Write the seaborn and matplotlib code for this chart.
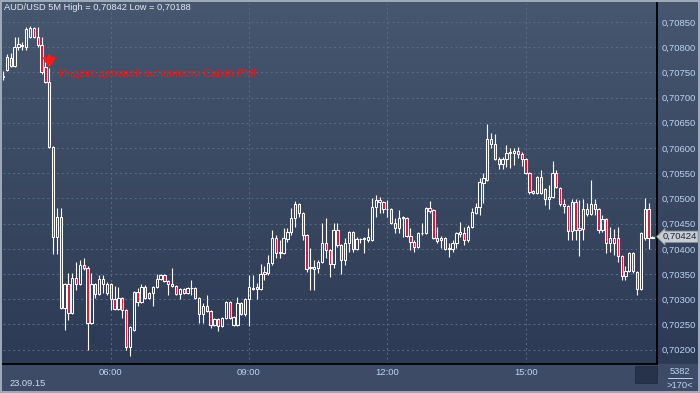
import numpy as np
import pandas as pd
import matplotlib
matplotlib.use('Agg')
import matplotlib.pyplot as plt
from matplotlib.patches import Rectangle
from matplotlib.colors import LinearSegmentedColormap
import seaborn as sns

symbol = 'AUD/USD 5M'
start_time = '2015-09-23 03:40'
bar_total = '5382'
event_idx = 12
event_text = 'Индекс деловой активности Caixin PMI'

# prices in points (1e-5)
opens = np.array([
    70741, 70755, 70779, 70763, 70800, 70802, 70800, 70820, 70838, 70820,
    70804, 70761, 70731, 70602, 70423, 70463, 70283, 70330, 70273, 70342,
    70330, 70368, 70362, 70253, 70330, 70310, 70330, 70312, 70330, 70300,
    70281, 70302, 70279, 70205, 70239, 70314, 70294, 70324, 70302, 70312,
    70324, 70340, 70348, 70336, 70326, 70326, 70310, 70320, 70312, 70322,
    70322, 70302, 70271, 70287, 70277, 70249, 70261, 70247, 70263, 70294,
    70249, 70249, 70292, 70271, 70300, 70320, 70320, 70320, 70354, 70352,
    70372, 70421, 70392, 70392, 70419, 70433, 70461, 70489, 70471, 70427,
    70364, 70360, 70362, 70374, 70412, 70398, 70370, 70437, 70408, 70378,
    70412, 70433, 70400, 70419, 70419, 70417, 70417, 70483, 70497, 70493,
    70479, 70479, 70451, 70441, 70461, 70461, 70425, 70414, 70404, 70431,
    70431, 70481, 70477, 70421, 70421, 70421, 70402, 70400, 70412, 70429,
    70431, 70417, 70443, 70471, 70483, 70531, 70537, 70618, 70608, 70578,
    70568, 70578, 70590, 70590, 70594, 70588, 70578, 70550, 70515, 70511,
    70543, 70519, 70499, 70503, 70550, 70521, 70489, 70485, 70435, 70493,
    70441, 70439, 70469, 70469, 70489, 70479, 70437, 70459, 70412, 70421,
    70421, 70386, 70346, 70356, 70392, 70354, 70320, 70421, 70479, 70421]) / 1e5
highs = np.array([
    70753, 70787, 70789, 70820, 70820, 70810, 70840, 70842, 70840, 70840,
    70820, 70771, 70759, 70604, 70481, 70481, 70332, 70352, 70352, 70374,
    70378, 70382, 70366, 70352, 70332, 70348, 70348, 70334, 70332, 70326,
    70324, 70304, 70281, 70247, 70316, 70322, 70330, 70328, 70314, 70326,
    70350, 70350, 70350, 70338, 70362, 70328, 70322, 70322, 70324, 70338,
    70324, 70304, 70292, 70308, 70279, 70263, 70263, 70265, 70296, 70296,
    70267, 70304, 70294, 70302, 70348, 70348, 70332, 70370, 70366, 70388,
    70437, 70427, 70417, 70441, 70441, 70481, 70495, 70491, 70473, 70429,
    70402, 70378, 70378, 70451, 70461, 70400, 70451, 70451, 70410, 70421,
    70435, 70435, 70423, 70421, 70423, 70441, 70501, 70507, 70503, 70495,
    70497, 70481, 70461, 70477, 70465, 70463, 70441, 70417, 70433, 70451,
    70483, 70495, 70479, 70443, 70425, 70423, 70412, 70417, 70433, 70453,
    70443, 70447, 70481, 70491, 70541, 70551, 70648, 70630, 70628, 70582,
    70582, 70606, 70600, 70600, 70602, 70592, 70580, 70552, 70517, 70545,
    70556, 70521, 70527, 70574, 70556, 70523, 70499, 70487, 70499, 70499,
    70497, 70499, 70491, 70537, 70499, 70481, 70467, 70461, 70443, 70439,
    70443, 70388, 70366, 70394, 70394, 70356, 70433, 70501, 70491, 70425]) / 1e5
lows = np.array([
    70735, 70753, 70761, 70761, 70794, 70794, 70794, 70818, 70818, 70800,
    70747, 70729, 70600, 70390, 70390, 70281, 70239, 70259, 70271, 70318,
    70328, 70358, 70199, 70251, 70302, 70308, 70312, 70308, 70279, 70279,
    70279, 70263, 70199, 70188, 70237, 70287, 70292, 70300, 70300, 70287,
    70322, 70338, 70334, 70308, 70324, 70308, 70300, 70310, 70310, 70308,
    70300, 70253, 70253, 70275, 70243, 70247, 70237, 70245, 70261, 70261,
    70247, 70247, 70269, 70267, 70247, 70318, 70300, 70318, 70338, 70348,
    70368, 70382, 70382, 70390, 70414, 70427, 70443, 70463, 70417, 70354,
    70318, 70318, 70352, 70372, 70382, 70344, 70362, 70404, 70350, 70368,
    70394, 70394, 70398, 70412, 70392, 70414, 70416, 70463, 70471, 70471,
    70463, 70449, 70431, 70431, 70423, 70423, 70398, 70394, 70402, 70427,
    70429, 70471, 70419, 70412, 70402, 70398, 70384, 70394, 70402, 70423,
    70408, 70414, 70441, 70469, 70467, 70491, 70535, 70600, 70576, 70558,
    70558, 70562, 70560, 70566, 70580, 70564, 70548, 70509, 70509, 70509,
    70509, 70487, 70479, 70501, 70521, 70485, 70471, 70417, 70417, 70417,
    70386, 70417, 70465, 70467, 70467, 70431, 70433, 70392, 70394, 70388,
    70374, 70338, 70338, 70354, 70352, 70308, 70318, 70417, 70400, 70421]) / 1e5
closes = np.array([
    70743, 70781, 70763, 70800, 70806, 70804, 70836, 70838, 70820, 70804,
    70751, 70731, 70602, 70423, 70463, 70283, 70330, 70273, 70342, 70330,
    70368, 70362, 70253, 70330, 70310, 70340, 70340, 70330, 70300, 70281,
    70302, 70279, 70205, 70245, 70314, 70294, 70324, 70302, 70312, 70324,
    70340, 70348, 70336, 70330, 70330, 70310, 70320, 70312, 70322, 70323,
    70302, 70271, 70287, 70277, 70249, 70261, 70247, 70263, 70294, 70263,
    70265, 70292, 70271, 70300, 70324, 70322, 70324, 70350, 70350, 70372,
    70421, 70392, 70394, 70421, 70433, 70461, 70489, 70471, 70427, 70360,
    70362, 70364, 70374, 70412, 70398, 70370, 70437, 70408, 70378, 70412,
    70433, 70400, 70419, 70420, 70421, 70423, 70483, 70497, 70493, 70479,
    70480, 70451, 70441, 70461, 70463, 70425, 70414, 70404, 70431, 70432,
    70481, 70475, 70421, 70415, 70417, 70400, 70400, 70412, 70431, 70433,
    70417, 70443, 70473, 70483, 70533, 70541, 70618, 70608, 70578, 70568,
    70578, 70590, 70592, 70594, 70588, 70578, 70550, 70513, 70511, 70543,
    70511, 70499, 70503, 70550, 70523, 70489, 70485, 70435, 70493, 70437,
    70437, 70479, 70479, 70489, 70479, 70437, 70459, 70412, 70421, 70412,
    70386, 70346, 70356, 70392, 70356, 70320, 70431, 70479, 70421, 70424]) / 1e5

price_ticks = np.arange(70200, 70851, 50) / 1e5

sns.set_theme(style='dark')
plt.rcParams['font.family'] = ['Liberation Sans', 'DejaVu Sans']

txt_col = '#bdd3f2'
red = '#dc143c'


def fmt(v):
    return f'{v:.5f}'.replace('.', ',')


times = pd.date_range(start_time, periods=len(opens), freq='5min')
x = np.arange(len(opens))

fig = plt.figure(figsize=(7, 3.93), dpi=100, facecolor='#2d3a55')

# background: gradient panel, bottom strip, frame
bg = fig.add_axes([0, 0, 1, 1])
bg.set_xlim(0, 700)
bg.set_ylim(393, 0)
bg.axis('off')
cmap = LinearSegmentedColormap.from_list('bg', ['#47576f', '#2d3a55'])
bg.imshow(np.linspace(0, 1, 256)[:, None], extent=[0, 700, 364, 0], cmap=cmap, aspect='auto')
bg.add_patch(Rectangle((0, 364), 700, 29, color='#3d4b66'))
bg.add_patch(Rectangle((635, 366), 22, 17, facecolor='#27324b', edgecolor='#222b40', lw=0.6))
bg.add_patch(Rectangle((0.6, 0.8), 698.8, 391, fill=False, edgecolor='#a9b3c1', lw=1.3))
bg.plot([668, 692], [377.5, 377.5], color=txt_col, lw=0.7)

ax = fig.add_axes([3 / 700, 29 / 393, 654 / 700, 361 / 393])
ax.set_facecolor('none')

# candles
up = closes >= opens
body_lo = np.minimum(opens, closes)
body_hi = np.maximum(opens, closes)
body_h = np.maximum(body_hi - body_lo, 0.000004)
ax.vlines(x, body_hi, highs, color='white', lw=0.8, zorder=3)
ax.vlines(x, lows, body_lo, color='white', lw=0.8, zorder=3)
ax.bar(x[up], body_h[up], bottom=body_lo[up], width=0.6, facecolor='none',
       edgecolor='white', linewidth=0.75, zorder=3)
ax.bar(x[~up], body_h[~up], bottom=body_lo[~up], width=0.6, facecolor=red,
       edgecolor='white', linewidth=0.75, zorder=3)

ax.set_xlim(-0.03, 170.2)
ax.set_ylim(0.701715, 0.708877)

# axes, ticks, grid
for side in ['left', 'top']:
    ax.spines[side].set_visible(False)
for side in ['right', 'bottom']:
    ax.spines[side].set_visible(True)
    ax.spines[side].set_color('black')
    ax.spines[side].set_linewidth(1.3)

ax.yaxis.tick_right()
ax.set_yticks(price_ticks)
ax.set_yticklabels([fmt(v) for v in price_ticks])
ax.tick_params(axis='y', length=0, pad=3.5, labelsize=6.8, labelcolor=txt_col)

hour_idx = np.where((times.minute == 0) & (times.hour % 3 == 0))[0]
ax.set_xticks(hour_idx)
ax.set_xticklabels(times[hour_idx].strftime('%H:%M'))
ax.tick_params(axis='x', length=0, pad=3, labelsize=6.8, labelcolor=txt_col)

ax.grid(True, color='#5b6b89', linestyle=(0, (2, 3)), linewidth=0.7, zorder=1)
ax.set_axisbelow(True)

# event marker: red down arrow above the candle, label to the right
ax.annotate('', xy=(event_idx, highs[event_idx]), xytext=(0, 9), textcoords='offset points',
            arrowprops=dict(arrowstyle='-|>,head_width=0.3,head_length=0.45',
                            color='#ff1a1a', lw=1.8, mutation_scale=12,
                            shrinkA=0, shrinkB=0), zorder=5)
ax.annotate(event_text, xy=(event_idx, highs[event_idx]), xytext=(6.8, -4.3),
            textcoords='offset points', color='#ff1010', fontsize=7.8,
            ha='left', va='center', zorder=5)

# last price tag
ax.annotate(fmt(closes[-1]), xy=(1, closes[-1]), xycoords=('axes fraction', 'data'),
            xytext=(4, 0), textcoords='offset points', fontsize=6.8, color='#1a2638',
            ha='left', va='center', annotation_clip=False,
            bbox=dict(boxstyle='larrow,pad=0.12', facecolor='#c9cdd3', edgecolor='#8a93a0', lw=0.6))

# header and footer texts
fig.text(4 / 700, 1 - 8 / 393, f'{symbol} High = {fmt(highs.max())} Low = {fmt(lows.min())}',
         color='#e4eaf3', fontsize=6.7, ha='left', va='center')
fig.text(10 / 700, 1 - 383 / 393, times[0].strftime('%d.%m.%y'),
         color='#d0dcef', fontsize=6.7, ha='left', va='center')
fig.text(680 / 700, 1 - 371 / 393, bar_total, color=txt_col, fontsize=6.7, ha='center', va='center')
fig.text(680 / 700, 1 - 385 / 393, f'>{len(opens)}<', color=txt_col, fontsize=6.7,
         ha='center', va='center')

fig.savefig('out.png', dpi=100, facecolor=fig.get_facecolor())
